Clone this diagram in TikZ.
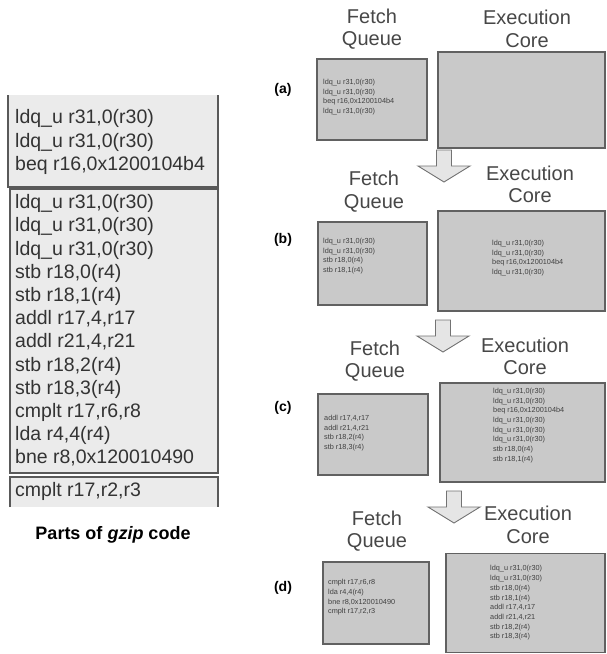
\documentclass[tikz,border=0pt]{standalone}
\usepackage{fontspec}
\setmainfont{Liberation Sans}
\begin{document}
\begin{tikzpicture}[x=1pt,y=-1pt,
  qbox/.style={draw=black!62,line width=1.3pt,fill=black!21,inner sep=0pt},
  codeline/.style={anchor=west,inner sep=0pt,font=\fontsize{19.5}{23.2}\selectfont,text=black!80,align=left},
  small/.style={inner sep=0pt,align=left,font=\fontsize{7.3}{9.7}\selectfont,text=black!75},
  head/.style={inner sep=0pt,align=center,font=\fontsize{20}{22.5}\selectfont,text=black!72},
  lab/.style={inner sep=0pt,font=\bfseries\fontsize{14}{16}\selectfont},
  arrowbody/.style={draw=black!55,fill=black!10,line width=0.9pt,line join=miter},
  flowarrow/.pic={\path[arrowbody] (-7.5,0) -- (7.5,0) -- (7.5,16) -- (26,16) -- (0,32) -- (-26,16) -- (-7.5,16) -- cycle;}
]
\path[use as bounding box,fill=white] (0,0) rectangle (606,654);

% ---- left code listing ----
\fill[black!8] (8,95) rectangle (218,187);
\fill[black!8] (10,189) rectangle (218,473);
\fill[black!8] (10,477) rectangle (218,507);
\draw[black!65,line width=1.2pt] (8,95) -- (8,187) -- (218,187) -- (218,95);
\draw[black!65,line width=1.2pt] (10,189) rectangle (218,473);
\draw[black!65,line width=1.2pt] (10,507) -- (10,477) -- (218,477) -- (218,507);

\node[codeline] (c1) at (15,142) {ldq\_u r31,0(r30)\\ldq\_u r31,0(r30)\\beq r16,0x1200104b4};
\node[codeline] (c2) at (15,330.5) {ldq\_u r31,0(r30)\\ldq\_u r31,0(r30)\\ldq\_u r31,0(r30)\\stb r18,0(r4)\\stb r18,1(r4)\\addl r17,4,r17\\addl r21,4,r21\\stb r18,2(r4)\\stb r18,3(r4)\\cmplt r17,r6,r8\\lda r4,4(r4)\\bne r8,0x120010490};
\node[codeline] (c3) at (15,491) {cmplt r17,r2,r3};
\node[inner sep=0pt,font=\bfseries\fontsize{18}{20}\selectfont] (cap) at (113,535) {Parts of \textit{gzip} code};

% ---- stage (a) ----
\node[head] (fqa) at (372,29) {Fetch\\Queue};
\node[head] (eca) at (527,29) {Execution\\Core};
\node[lab] (la) at (283,90) {(a)};
\node[qbox,minimum width=110pt,minimum height=81pt] (qa) at (372,99.5) {};
\node[qbox,minimum width=167pt,minimum height=96pt] (ea) at (521.5,100) {};
\node[small,anchor=west] (ta) at (323,97) {ldq\_u r31,0(r30)\\ldq\_u r31,0(r30)\\beq r16,0x1200104b4\\ldq\_u r31,0(r30)};

\pic at (444,150) {flowarrow};

% ---- stage (b) ----
\node[head] (fqb) at (374,191.5) {Fetch\\Queue};
\node[head] (ecb) at (530,184.5) {Execution\\Core};
\node[lab] (lb) at (283,240) {(b)};
\node[qbox,minimum width=109pt,minimum height=83pt] (qb) at (372.5,263.5) {};
\node[qbox,minimum width=167pt,minimum height=100pt] (eb) at (521.5,261) {};
\node[small,anchor=west] (tqb) at (323,256) {ldq\_u r31,0(r30)\\ldq\_u r31,0(r30)\\stb r18,0(r4)\\stb r18,1(r4)};
\node[small,anchor=west] (teb) at (492,258) {ldq\_u r31,0(r30)\\ldq\_u r31,0(r30)\\beq r16,0x1200104b4\\ldq\_u r31,0(r30)};

\pic at (443,320) {flowarrow};

% ---- stage (c) ----
\node[head] (fqc) at (375,361) {Fetch\\Queue};
\node[head] (ecc) at (525,356.5) {Execution\\Core};
\node[lab] (lc) at (283,408) {(c)};
\node[qbox,minimum width=110pt,minimum height=81pt] (qc) at (373,434.5) {};
\node[qbox,minimum width=165pt,minimum height=99pt] (ec) at (522.5,432.5) {};
\node[small,anchor=west] (tqc) at (324,433) {addl r17,4,r17\\addl r21,4,r21\\stb r18,2(r4)\\stb r18,3(r4)};
\node[small,anchor=west] (tec) at (493,425.5) {ldq\_u r31,0(r30)\\ldq\_u r31,0(r30)\\beq r16,0x1200104b4\\ldq\_u r31,0(r30)\\ldq\_u r31,0(r30)\\ldq\_u r31,0(r30)\\stb r18,0(r4)\\stb r18,1(r4)};

\pic at (454,491) {flowarrow};

% ---- stage (d) ----
\node[head] (fqd) at (377,531) {Fetch\\Queue};
\node[head] (ecd) at (528,525) {Execution\\Core};
\node[lab] (ld) at (283,588) {(d)};
\node[qbox,minimum width=106pt,minimum height=82pt] (qd) at (376,603) {};
\node[qbox,minimum width=159pt,minimum height=99pt] (ed) at (525.5,603) {};
\node[small,anchor=west] (tqd) at (328,597.5) {cmplt r17,r6,r8\\lda r4,4(r4)\\bne r8,0x120010490\\cmplt r17,r2,r3};
\node[small,anchor=west] (ted) at (490,603) {ldq\_u r31,0(r30)\\ldq\_u r31,0(r30)\\stb r18,0(r4)\\stb r18,1(r4)\\addl r17,4,r17\\addl r21,4,r21\\stb r18,2(r4)\\stb r18,3(r4)};
\end{tikzpicture}
\end{document}
